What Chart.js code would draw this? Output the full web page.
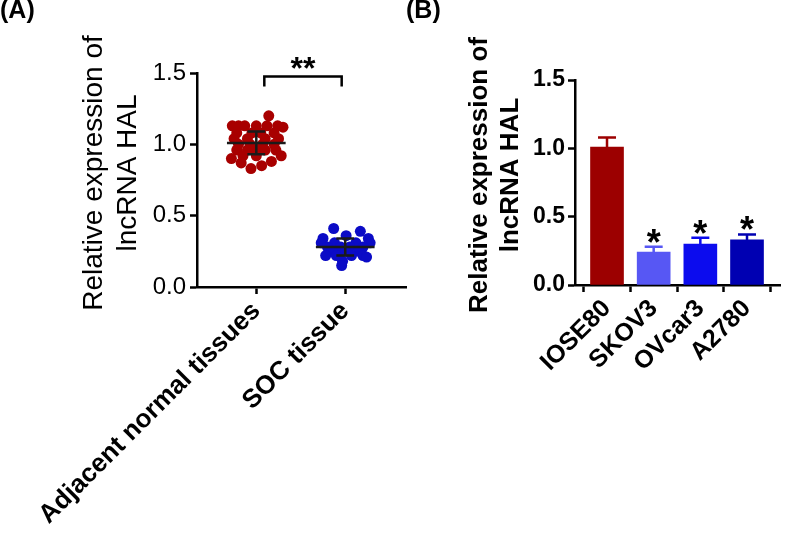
<!DOCTYPE html>
<html>
<head>
<meta charset="utf-8">
<script src="https://cdn.jsdelivr.net/npm/chart.js@4.4.1/dist/chart.umd.min.js"></script>
<style>
  body { margin: 0; background: #fff; }
  #wrap { position: relative; width: 787px; height: 534px; overflow: hidden; }
  canvas { position: absolute; top: 0; }
  #chartA { left: 0; }
  #chartB { left: 400px; }
</style>
</head>
<body>
<div id="wrap">
  <canvas id="chartA" width="412" height="534"></canvas>
  <canvas id="chartB" width="387" height="534"></canvas>
</div>
<script>
// ---- panel A: scatter, individual samples ----
const groupLabels = ['Adjacent normal tissues', 'SOC tissue'];
// jitter is the horizontal spread (in category units)
const normalJitter = [0.14, -0.27, -0.20, -0.13, 0.00, 0.12, 0.24, 0.30, -0.22, -0.05, 0.05, 0.20,
  -0.25, -0.10, 0.10, 0.25, -0.20, -0.07, 0.07, 0.20, -0.22, -0.10, 0.00, 0.10, 0.22,
  -0.15, 0.00, 0.28, -0.28, -0.17, 0.17, 0.06, -0.06];
const normalValues = [1.20, 1.13, 1.13, 1.13, 1.13, 1.13, 1.13, 1.12, 1.08, 1.08, 1.08, 1.08,
  1.04, 1.04, 1.04, 1.04, 1.00, 1.00, 1.00, 1.00, 0.96, 0.96, 0.96, 0.96, 0.96,
  0.92, 0.92, 0.92, 0.90, 0.87, 0.88, 0.85, 0.83];
const socJitter = [-0.13, 0.17, 0.01, -0.25, 0.26, -0.27, -0.12, 0.12, 0.28, -0.20, -0.05, 0.05, 0.20,
  -0.15, 0.00, 0.15, -0.22, -0.10, 0.07, 0.20, 0.24, -0.03, -0.04];
const socValues = [0.41, 0.39, 0.36, 0.34, 0.34, 0.31, 0.31, 0.31, 0.31, 0.28, 0.28, 0.28, 0.28,
  0.25, 0.25, 0.25, 0.22, 0.22, 0.22, 0.22, 0.21, 0.18, 0.15];
const groupMeans = [1.01, 0.28];
const groupSD = [0.08, 0.06];

// ---- panel B: bars ----
const cellLines = ['IOSE80', 'SKOV3', 'OVcar3', 'A2780'];
const cellMeans = [1.01, 0.24, 0.30, 0.33];
const cellErr = [0.07, 0.04, 0.045, 0.04];
const cellStars = ['', '*', '*', '*'];

const yTicks = [0, 0.5, 1.0, 1.5];

const FONT = '"Liberation Sans", Arial, sans-serif';
Chart.defaults.font.family = FONT;
Chart.defaults.color = '#000';

const barColors = ['#9c0000', '#5757f4', '#0c0cee', '#0000b2'];

function axisStyle() {
  return {
    grid: { drawOnChartArea: false, tickLength: 7, tickColor: '#000', tickWidth: 2.5 },
    border: { color: '#000', width: 2.5 }
  };
}

function drawVerticalTitle(ctx, lines, x, gap, yMid, font) {
  ctx.save();
  ctx.font = font;
  ctx.fillStyle = '#000';
  ctx.textAlign = 'center';
  ctx.textBaseline = 'middle';
  lines.forEach((t, i) => {
    ctx.save();
    ctx.translate(x + i * gap, yMid);
    ctx.rotate(-Math.PI / 2);
    ctx.fillText(t, 0, 0);
    ctx.restore();
  });
  ctx.restore();
}

const titleLines = ['Relative expression of', 'lncRNA HAL'];

const groupStats = {
  id: 'groupStats',
  afterDatasetsDraw(chart) {
    const { ctx, scales: { x, y } } = chart;
    ctx.save();
    ctx.strokeStyle = '#1a1a1a';
    ctx.lineWidth = 2.5;
    groupMeans.forEach((m, i) => {
      const left = x.getPixelForValue(i - 0.33), right = x.getPixelForValue(i + 0.33);
      const capL = x.getPixelForValue(i - 0.1), capR = x.getPixelForValue(i + 0.1);
      const cx = x.getPixelForValue(i);
      const yM = y.getPixelForValue(m);
      const yHi = y.getPixelForValue(m + groupSD[i]);
      const yLo = y.getPixelForValue(m - groupSD[i]);
      ctx.beginPath();
      ctx.moveTo(left, yM); ctx.lineTo(right, yM);
      ctx.moveTo(cx, yHi); ctx.lineTo(cx, yLo);
      ctx.moveTo(capL, yHi); ctx.lineTo(capR, yHi);
      ctx.moveTo(capL, yLo); ctx.lineTo(capR, yLo);
      ctx.stroke();
    });
    // significance bracket
    const bx0 = x.getPixelForValue(0.09), bx1 = x.getPixelForValue(0.96);
    const by = y.getPixelForValue(1.475), byd = y.getPixelForValue(1.405);
    ctx.strokeStyle = '#000';
    ctx.beginPath();
    ctx.moveTo(bx0, byd); ctx.lineTo(bx0, by); ctx.lineTo(bx1, by); ctx.lineTo(bx1, byd);
    ctx.stroke();
    ctx.fillStyle = '#000';
    ctx.font = 'bold 32px ' + FONT;
    ctx.textAlign = 'center';
    ctx.textBaseline = 'alphabetic';
    ctx.fillText('**', (bx0 + bx1) / 2, by + 2);
    ctx.restore();
  },
  afterDraw(chart) {
    const ctx = chart.ctx;
    drawVerticalTitle(ctx, titleLines, 94, 34, 173, '28px ' + FONT);
    ctx.save();
    ctx.font = 'bold 25px ' + FONT;
    ctx.fillStyle = '#000';
    ctx.textBaseline = 'top';
    ctx.fillText('(A)', 0, -1);
    ctx.restore();
  }
};

const barStats = {
  id: 'barStats',
  afterDatasetsDraw(chart) {
    const { ctx, scales: { x, y } } = chart;
    ctx.save();
    ctx.lineWidth = 2.5;
    cellMeans.forEach((m, i) => {
      const cx = x.getPixelForValue(i);
      const yTop = y.getPixelForValue(m);
      const yErr = y.getPixelForValue(m + cellErr[i]);
      ctx.strokeStyle = barColors[i];
      ctx.beginPath();
      ctx.moveTo(cx, yTop); ctx.lineTo(cx, yErr);
      ctx.moveTo(cx - 9, yErr); ctx.lineTo(cx + 9, yErr);
      ctx.stroke();
      if (cellStars[i]) {
        ctx.fillStyle = '#000';
        ctx.font = 'bold 36px ' + FONT;
        ctx.textAlign = 'center';
        ctx.textBaseline = 'alphabetic';
        ctx.fillText(cellStars[i], cx, yErr + 8);
      }
    });
    ctx.restore();
  },
  afterDraw(chart) {
    const ctx = chart.ctx;
    drawVerticalTitle(ctx, titleLines, 80, 31, 175, 'bold 26px ' + FONT);
    ctx.save();
    ctx.font = 'bold 25px ' + FONT;
    ctx.fillStyle = '#000';
    ctx.textBaseline = 'top';
    ctx.fillText('(B)', 6, -1);
    ctx.restore();
  }
};

const yAxisBase = (width, tickFont, pad) => Object.assign({
  min: 0,
  max: 1.5,
  afterBuildTicks: s => { s.ticks = yTicks.map(v => ({ value: v })); },
  afterFit: s => { s.width = width; s.paddingTop = 0; s.paddingBottom = 0; },
  ticks: { callback: v => v.toFixed(1), font: tickFont, padding: pad }
}, axisStyle());

new Chart(document.getElementById('chartA'), {
  type: 'scatter',
  data: {
    datasets: [
      { data: normalValues.map((v, i) => ({ x: 0 + normalJitter[i], y: v })),
        backgroundColor: '#a80000', pointRadius: 5.5, borderWidth: 0 },
      { data: socValues.map((v, i) => ({ x: 1 + socJitter[i], y: v })),
        backgroundColor: '#0b0bc6', pointRadius: 5.5, borderWidth: 0 }
    ]
  },
  options: {
    responsive: false,
    animation: false,
    layout: { padding: { left: 0, top: 73, right: 3, bottom: 0 } },
    plugins: { legend: { display: false }, tooltip: { enabled: false } },
    scales: {
      x: Object.assign({
        type: 'linear',
        min: -0.667,
        max: 1.689,
        afterBuildTicks: s => { s.ticks = groupLabels.map((_, i) => ({ value: i })); },
        afterFit: s => { s.height = 247; s.paddingLeft = 0; s.paddingRight = 0; },
        ticks: {
          callback: v => groupLabels[v],
          minRotation: 45, maxRotation: 45, autoSkip: false,
          font: { size: 26, weight: 'bold' }, padding: 2
        }
      }, axisStyle()),
      y: yAxisBase(197, { size: 24 }, 4)
    }
  },
  plugins: [groupStats]
});

new Chart(document.getElementById('chartB'), {
  type: 'bar',
  data: {
    datasets: [{
      data: cellMeans.map((v, i) => ({ x: i, y: v })),
      backgroundColor: barColors,
      borderWidth: 0,
      barThickness: 33
    }]
  },
  options: {
    responsive: false,
    animation: false,
    layout: { padding: { left: 0, top: 80, right: 7, bottom: 0 } },
    plugins: { legend: { display: false }, tooltip: { enabled: false } },
    scales: {
      x: Object.assign({
        type: 'linear',
        offset: false,
        min: -0.686,
        max: 3.707,
        afterBuildTicks: s => { s.ticks = cellLines.map((_, i) => ({ value: i })); },
        afterFit: s => { s.height = 249; s.paddingLeft = 0; s.paddingRight = 0; },
        ticks: {
          callback: v => cellLines[v],
          minRotation: 45, maxRotation: 45, autoSkip: false,
          font: { size: 25, weight: 'bold' }, padding: 2
        }
      }, axisStyle()),
      y: yAxisBase(175, { size: 23, weight: 'bold' }, 3)
    }
  },
  plugins: [barStats]
});
</script>
</body>
</html>
